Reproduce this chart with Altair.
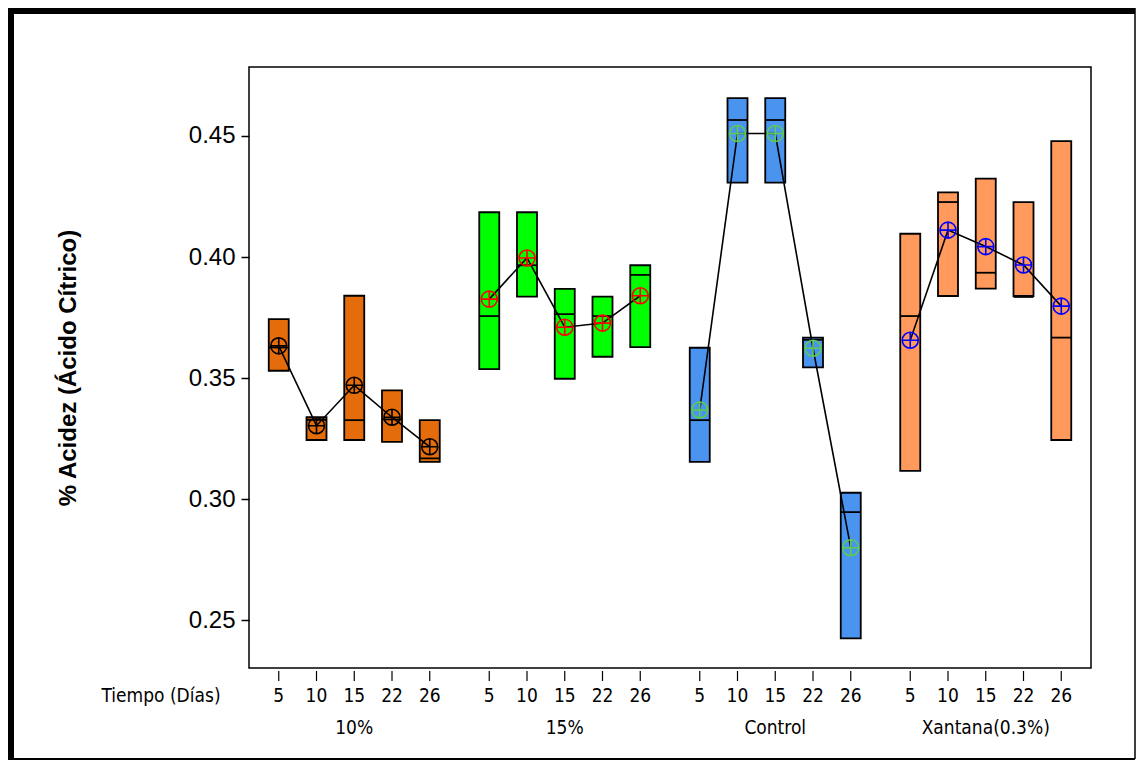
import altair as alt
import pandas as pd

groups = ["10%", "15%", "Control", "Xantana(0.3%)"]
days = ["5", "10", "15", "22", "26"]

mins = {
    "10%": [0.3530, 0.3244, 0.3244, 0.3236, 0.3154],
    "15%": [0.3537, 0.3836, 0.3497, 0.3588, 0.3628],
    "Control": [0.3154, 0.4307, 0.4307, 0.3544, 0.2424],
    "Xantana(0.3%)": [0.3116, 0.3839, 0.3869, 0.3839, 0.3244],
}
maxs = {
    "10%": [0.3743, 0.3338, 0.3840, 0.3449, 0.3326],
    "15%": [0.4185, 0.4185, 0.3868, 0.3836, 0.3966],
    "Control": [0.3625, 0.4656, 0.4656, 0.3667, 0.3026],
    "Xantana(0.3%)": [0.4096, 0.4267, 0.4324, 0.4227, 0.4479],
}
medians = {
    "10%": [0.3626, 0.3327, 0.3326, 0.3329, 0.3168],
    "15%": [0.3756, 0.3966, 0.3764, 0.3756, 0.3926],
    "Control": [0.3326, 0.4566, 0.4566, 0.3658, 0.2946],
    "Xantana(0.3%)": [0.3756, 0.4227, 0.3935, 0.3835, 0.3667],
}
means = {
    "10%": [0.3633, 0.3303, 0.3470, 0.3338, 0.3216],
    "15%": [0.3826, 0.3996, 0.3710, 0.3727, 0.3840],
    "Control": [0.3368, 0.4510, 0.4510, 0.3623, 0.2799],
    "Xantana(0.3%)": [0.3656, 0.4111, 0.4043, 0.3967, 0.3797],
}
box_colors = ["#E46C0A", "#00FF00", "#4A94F0", "#FF9A5C"]
mean_colors = ["#000000", "#FF0000", "#5DCB4F", "#0000FF"]
y_ticks = [0.25, 0.30, 0.35, 0.40, 0.45]

rows = []
for g in groups:
    for i, d in enumerate(days):
        rows.append({"grupo": g, "dia": d, "idx": i,
                     "lo": mins[g][i], "hi": maxs[g][i],
                     "med": medians[g][i], "media": means[g][i]})
df = pd.DataFrame(rows)

W, H = 842, 601
FONT = "Liberation Sans"
NARROW = "'Liberation Sans Narrow', 'DejaVu Sans Condensed', 'Roboto Condensed', 'Liberation Sans', sans-serif"

x_enc = alt.X("grupo:N", sort=groups,
              scale=alt.Scale(paddingInner=0, paddingOuter=0),
              axis=alt.Axis(title=None, ticks=False, domain=False, labelAngle=0,
                            labelPadding=50, labelFontSize=19, labelFont=NARROW,
                            labelColor="black"))
xo = alt.XOffset("dia:N", sort=days,
                 scale=alt.Scale(paddingInner=0.47, paddingOuter=0.523))
y_scale = alt.Scale(domain=[0.2302, 0.4785], nice=False, zero=False)
y_enc = alt.Y("lo:Q", scale=y_scale,
              axis=alt.Axis(title="% Acidez (Ácido Cítrico)", values=y_ticks, format=".2f",
                            grid=False, domain=False, tickSize=8, tickColor="black",
                            tickWidth=1.5, labelFontSize=24, labelFont=FONT,
                            labelColor="black", labelPadding=6,
                            titleFont=FONT, titleFontSize=24, titleFontWeight="bold",
                            titleColor="black", titleX=-181, titleBaseline="middle"))

base = alt.Chart(df)

boxes = base.mark_bar(stroke="black", strokeWidth=1.8).encode(
    x=x_enc, xOffset=xo, y=y_enc, y2="hi:Q",
    fill=alt.Fill("grupo:N", sort=groups,
                  scale=alt.Scale(domain=groups, range=box_colors), legend=None),
)

med_ticks = base.mark_tick(orient="horizontal", color="black", thickness=1.8, size=20,
                           opacity=1).encode(
    x=x_enc, xOffset=xo, y=alt.Y("med:Q", scale=y_scale),
)

mean_line = base.mark_line(color="black", strokeWidth=1.6).encode(
    x=x_enc, xOffset=xo, y=alt.Y("media:Q", scale=y_scale),
    detail="grupo:N", order="idx:Q",
)

marker = "M-1,0A1,1 0 1,1 1,0A1,1 0 1,1 -1,0ZM-1,0L1,0M0,-1L0,1"
mean_pts = base.mark_point(shape=marker, filled=False, size=256, strokeWidth=1.6, opacity=1).encode(
    x=x_enc, xOffset=xo, y=alt.Y("media:Q", scale=y_scale),
    stroke=alt.Stroke("grupo:N", sort=groups,
                      scale=alt.Scale(domain=groups, range=mean_colors), legend=None),
)

day_ticks = base.mark_rule(color="black", strokeWidth=1.2).encode(
    x=x_enc, xOffset=xo, y=alt.value(H + 3), y2=alt.value(H + 13),
)

day_labels = base.mark_text(font=NARROW, fontSize=19, color="black", baseline="middle").encode(
    x=x_enc, xOffset=xo, y=alt.value(H + 28), text="dia:N",
)

tiempo = alt.Chart(pd.DataFrame({"t": ["Tiempo (Días)"]})).mark_text(
    font=NARROW, fontSize=19, color="black", baseline="middle", align="center"
).encode(x=alt.value(-88), y=alt.value(H + 28), text="t:N")

frame_df = pd.DataFrame({"k": [0]})
top_bar = alt.Chart(frame_df).mark_rule(color="black", strokeWidth=6).encode(
    x=alt.value(-241), x2=alt.value(886), y=alt.value(-56))
left_bar = alt.Chart(frame_df).mark_rule(color="black", strokeWidth=6).encode(
    x=alt.value(-238), y=alt.value(-59), y2=alt.value(692))
right_line = alt.Chart(frame_df).mark_rule(color="black", strokeWidth=1.5).encode(
    x=alt.value(886), y=alt.value(-59), y2=alt.value(692))
bottom_line = alt.Chart(frame_df).mark_rule(color="black", strokeWidth=2).encode(
    x=alt.value(-241), x2=alt.value(886), y=alt.value(692))

chart = alt.layer(
    boxes, med_ticks, mean_line, mean_pts, day_ticks, day_labels, tiempo,
    top_bar, left_bar, right_line, bottom_line,
).resolve_scale(fill="independent", stroke="independent").properties(
    width=W, height=H,
    autosize=alt.AutoSizeParams(type="none"),
    padding={"left": 241, "top": 59, "right": 45, "bottom": 92},
).configure(background="white").configure_view(stroke="black", strokeWidth=1.5)

chart.save("out.html", embed_options={"renderer": "svg", "actions": False})
